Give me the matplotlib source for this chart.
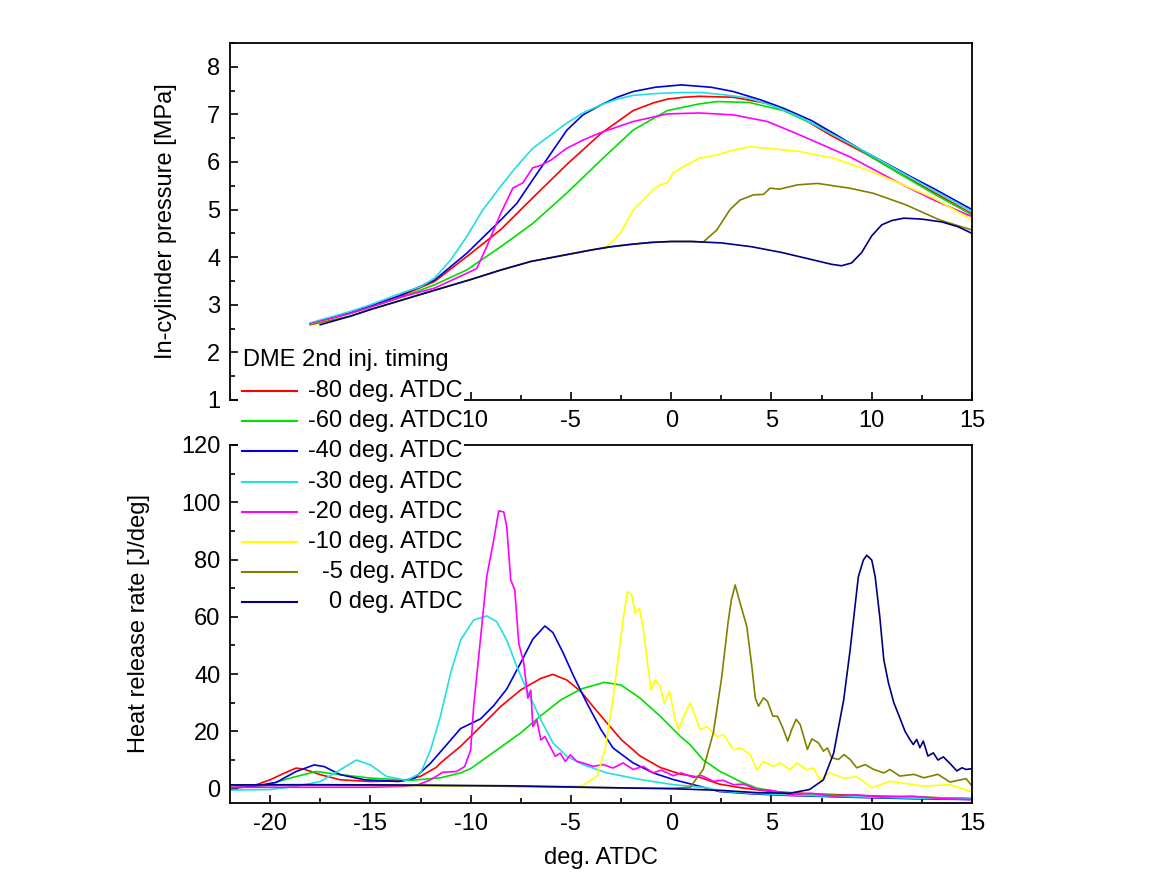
import matplotlib
matplotlib.use('Agg')
import matplotlib.pyplot as plt
from matplotlib.lines import Line2D
from matplotlib.patches import Rectangle
from matplotlib.ticker import MultipleLocator

plt.rcParams['font.family'] = ['Liberation Sans', 'DejaVu Sans']
plt.rcParams['axes.unicode_minus'] = False

labels = ['-80 deg. ATDC', '-60 deg. ATDC', '-40 deg. ATDC', '-30 deg. ATDC',
          '-20 deg. ATDC', '-10 deg. ATDC', '-5 deg. ATDC', '0 deg. ATDC']
colors = ['#FF0000', '#00E000', '#0000D8', '#20E0E0',
          '#FF00FF', '#FFFF00', '#808000', '#000080']

# ---- in-cylinder pressure [MPa]
p80_x = [-18, -16, -15, -13.5, -11.8, -10.2, -8.5, -6.9, -5.2, -3.5, -1.9, -0.9, -0.2, 0.6, 1.4, 3.1, 4.8, 6.4, 8, 9.8, 11.4, 13.1, 15]
p80_y = [2.6, 2.84, 2.97, 3.18, 3.49, 4.01, 4.58, 5.25, 5.95, 6.6, 7.08, 7.24, 7.32, 7.36, 7.38, 7.36, 7.23, 6.95, 6.55, 6.15, 5.76, 5.36, 4.91]
p60_x = [-18, -16, -15, -13.5, -11.8, -10.2, -8.5, -6.9, -5.2, -3.5, -1.9, -0.2, 1.4, 2.3, 3.9, 5.6, 8.1, 10, 11.4, 13.1, 15]
p60_y = [2.6, 2.82, 2.95, 3.15, 3.42, 3.73, 4.22, 4.71, 5.35, 6.04, 6.67, 7.08, 7.22, 7.27, 7.25, 7.08, 6.6, 6.1, 5.75, 5.33, 4.89]
p40_x = [-18, -16, -15, -13.5, -11.8, -10.2, -8.5, -7.7, -6.9, -6, -5.2, -4.4, -3.5, -2.7, -1.9, -0.8, 0.5, 2, 3.1, 4.5, 5.6, 7, 8.1, 9.5, 10.6, 12, 13.1, 15]
p40_y = [2.6, 2.84, 2.97, 3.2, 3.52, 4.08, 4.78, 5.13, 5.63, 6.18, 6.67, 6.99, 7.2, 7.36, 7.48, 7.57, 7.62, 7.57, 7.48, 7.3, 7.13, 6.87, 6.6, 6.25, 6.0, 5.68, 5.44, 5.0]
p30_x = [-18, -16, -15, -13.5, -12.5, -11.8, -11, -10.2, -9.4, -8.5, -7.7, -6.9, -6, -5.2, -4.4, -3.5, -2.7, -1.9, -0.7, 0.5, 1.5, 2.7, 3.9, 5.2, 6.4, 7.6, 8.9, 10.2, 11.4, 13.1, 15]
p30_y = [2.62, 2.86, 3.0, 3.24, 3.38, 3.56, 3.94, 4.43, 4.99, 5.49, 5.91, 6.29, 6.57, 6.82, 7.03, 7.2, 7.32, 7.4, 7.44, 7.46, 7.46, 7.41, 7.34, 7.16, 6.95, 6.68, 6.39, 6.09, 5.8, 5.4, 4.96]
p20_x = [-18, -16, -15, -13.5, -11.8, -10.2, -9.7, -9.2, -8.5, -7.9, -7.4, -6.9, -6.5, -6, -5.2, -4.4, -3.5, -1.9, -0.2, 1.4, 3.1, 4.8, 6.4, 8.9, 11.4, 13.1, 15]
p20_y = [2.6, 2.82, 2.95, 3.16, 3.35, 3.66, 3.76, 4.22, 4.92, 5.45, 5.56, 5.88, 5.93, 6.04, 6.29, 6.46, 6.62, 6.85, 7.01, 7.03, 6.99, 6.85, 6.57, 6.11, 5.55, 5.2, 4.85]
p10_x = [-18, -16, -15, -13.5, -12, -10, -8.5, -7, -6, -5, -4, -3.2, -2.55, -1.9, -1.4, -0.9, -0.55, -0.2, 0.1, 0.6, 1.4, 2.3, 3.1, 3.9, 4.8, 6.4, 8.1, 9.8, 11.4, 13.1, 15]
p10_y = [2.58, 2.76, 2.9, 3.09, 3.28, 3.53, 3.73, 3.91, 3.99, 4.07, 4.15, 4.22, 4.5, 4.99, 5.2, 5.42, 5.52, 5.56, 5.77, 5.9, 6.08, 6.15, 6.25, 6.32, 6.29, 6.22, 6.08, 5.83, 5.55, 5.24, 4.78]
p5_x = [-18, -16, -15, -13.5, -12, -10, -8.5, -7, -6, -5, -4, -3, -2, -1, 0, 1, 1.6, 2.27, 2.93, 3.43, 4.1, 4.6, 4.93, 5.4, 6.3, 7.3, 8.1, 8.9, 10.1, 11.7, 13.4, 15]
p5_y = [2.58, 2.76, 2.9, 3.09, 3.28, 3.53, 3.73, 3.91, 3.99, 4.07, 4.15, 4.22, 4.27, 4.31, 4.33, 4.33, 4.32, 4.57, 5.0, 5.2, 5.31, 5.32, 5.45, 5.43, 5.52, 5.55, 5.5, 5.45, 5.34, 5.1, 4.78, 4.57]
p0_x = [-17.5, -16, -15, -13.5, -12, -10, -8.5, -7, -6, -5, -4, -3, -2, -1, 0, 1, 2.5, 4, 5.5, 7, 8, 8.5, 9, 9.5, 10, 10.5, 11, 11.6, 12.5, 13.5, 14.3, 15]
p0_y = [2.58, 2.76, 2.9, 3.09, 3.28, 3.53, 3.73, 3.91, 3.99, 4.07, 4.15, 4.22, 4.27, 4.31, 4.33, 4.33, 4.3, 4.22, 4.1, 3.95, 3.85, 3.82, 3.88, 4.1, 4.45, 4.68, 4.77, 4.82, 4.8, 4.74, 4.64, 4.5]

# ---- heat release rate [J/deg]
q80_x = [-22, -21, -20, -19.3, -18.7, -18.3, -17.5, -16.5, -15, -13.3, -12.5, -11.7, -11.5, -10.5, -9.5, -8.5, -7.5, -6.5, -5.9, -5.2, -4.5, -3.9, -3.2, -2.5, -1.55, -0.55, 0.45, 1.45, 2.4, 3.5, 5, 7, 10, 12.5, 15]
q80_y = [0.3, 0.6, 3.1, 5.4, 7.2, 6.8, 4.9, 3.1, 2.5, 2.8, 4.3, 7.5, 9, 14.8, 21.7, 28.7, 34.5, 38.5, 39.9, 37.9, 33.9, 28.7, 22.9, 17.2, 11.4, 7.4, 5.1, 3.9, 1.6, 0.3, -1.0, -1.8, -2.5, -3.0, -3.5]
q60_x = [-22, -20.3, -19, -17.7, -16.5, -15, -13, -11.5, -10.5, -10, -9.5, -8.5, -7.5, -6.5, -5.5, -4.5, -3.34, -2.5, -1.55, -0.55, 0.45, 0.95, 1.6, 2.44, 3.44, 4.27, 5.6, 8, 11, 15]
q60_y = [0.3, 1.0, 3.7, 6.0, 4.9, 3.7, 2.9, 3.8, 5.5, 7, 9.5, 14.5, 19.5, 25.5, 31, 34.8, 37.1, 36.2, 31.6, 25.3, 18.3, 15.3, 10, 6, 2.5, 0.2, -1.4, -2.3, -2.8, -3.4]
q40_x = [-22, -21, -19.7, -18.7, -17.8, -17.3, -16.5, -15.3, -13.6, -12.8, -12.0, -11.5, -10.5, -9.5, -8.85, -8.2, -7.5, -6.9, -6.3, -5.9, -5.4, -4.86, -4.2, -3.5, -2.9, -1.9, -0.9, 0.1, 1.1, 2.4, 4, 6, 9, 12, 15]
q40_y = [0.3, 0.6, 2.2, 6.0, 8.3, 7.7, 4.9, 3.1, 2.5, 3.7, 8.9, 12.9, 21, 24.4, 29, 34.8, 44, 52.2, 56.8, 54.5, 47.6, 39.2, 29.8, 20.6, 14.2, 9, 5.5, 3.2, 1.4, -1.0, -1.8, -2.4, -3.0, -3.5, -3.8]
q30_x = [-22, -20, -18.7, -17.5, -16.5, -15.7, -15, -14.2, -13.2, -12.5, -12, -11.5, -11, -10.5, -9.85, -9.2, -8.7, -8.2, -7.7, -7.2, -6.5, -5.9, -5.2, -4.4, -3.2, -1.55, 0.1, 1.8, 2.4, 4, 6, 9, 12, 15]
q30_y = [-0.5, -0.3, 0.8, 2.5, 6.6, 10, 8.3, 4.3, 2.9, 5.4, 13.5, 25.5, 40.3, 51.9, 58.9, 60.3, 58.3, 51.9, 42.7, 34.5, 24.1, 16, 11.3, 8.4, 5.5, 3.2, 1.4, 0.3, -0.8, -1.6, -2.2, -2.8, -3.3, -3.6]
q20_x = [-22, -15, -13.3, -12.6, -12, -11.4, -10.7, -10.3, -10.0, -9.85, -9.5, -9.2, -8.85, -8.6, -8.35, -8.2, -8.0, -7.8, -7.6, -7.35, -7.15, -7.0, -6.9, -6.7, -6.5, -6.3, -6.0, -5.78, -5.53, -5.28, -5.03, -4.7, -4.4, -3.9, -3.4, -2.9, -2.4, -1.9, -1.4, -0.9, -0.5, 0.1, 0.5, 1.1, 1.5, 2.1, 2.6, 3.1, 3.6, 4.3, 5, 6, 7, 8, 9.2, 10.5, 12, 13.5, 15]
q20_y = [0.5, 0.5, 0.8, 1.4, 3.1, 5.7, 6.0, 7.7, 13.5, 28.7, 53, 74, 86.8, 97, 96.6, 91.4, 72.8, 69.4, 50.7, 43.8, 31.6, 34.4, 21.7, 24, 17, 18.2, 14.2, 11.3, 12.4, 9.5, 11.8, 9.5, 9, 7.8, 8.4, 7.2, 9, 6.7, 7.8, 5.5, 6.5, 4.5, 5.5, 4.0, 4.6, 2.6, 2.9, 1.4, 1.6, -0.3, -0.6, -2.1, -1.6, -2.6, -2.2, -2.9, -2.6, -3.5, -3.8]
q10_x = [-22, -15, -10, -4.45, -3.7, -3.3, -2.96, -2.63, -2.38, -2.18, -1.97, -1.8, -1.58, -1.38, -1.18, -1.01, -0.8, -0.55, -0.35, -0.08, 0.2, 0.37, 0.62, 0.95, 1.45, 1.78, 2.28, 2.61, 3.11, 3.44, 3.94, 4.27, 4.6, 5.1, 5.43, 5.93, 6.26, 6.76, 7.09, 7.42, 7.92, 8.59, 9.25, 9.58, 10.0, 10.9, 12.6, 13.9, 14.9]
q10_y = [1.3, 1.2, 1.0, 1.0, 4.3, 13.6, 28.7, 46.2, 60, 68.8, 67.6, 61.2, 62.9, 55.4, 43.8, 34.5, 38, 35.7, 29.8, 33.9, 24, 20.6, 25.2, 29.9, 20.6, 21.7, 18.2, 18.8, 13.6, 14.2, 11.9, 6.6, 9.5, 7.8, 9, 6.6, 9, 6.6, 7.2, 3.1, 5.5, 3.7, 4.1, 2.6, 0.2, 2.6, 0.9, 1.4, -0.9]
q5_x = [-22, -15, -10, -5, 0, 0.95, 1.6, 2.1, 2.5, 2.85, 3.0, 3.19, 3.44, 3.77, 4.02, 4.19, 4.35, 4.6, 4.8, 5.07, 5.3, 5.56, 5.81, 6.01, 6.23, 6.43, 6.79, 7.01, 7.34, 7.59, 7.79, 8.0, 8.34, 8.62, 8.92, 9.25, 9.67, 10.1, 10.6, 10.9, 11.4, 12.1, 12.6, 13.3, 13.9, 14.7, 15]
q5_y = [1.3, 1.2, 1.0, 0.5, 0.1, 0.5, 6.8, 19.5, 38, 58.9, 65.9, 71.1, 64.7, 56.6, 42.7, 31.7, 28.8, 31.7, 30.5, 25.3, 25.3, 21.3, 16.6, 20.7, 24.2, 22.4, 13.7, 17.4, 16, 13.1, 14.2, 10.8, 10.2, 11.9, 10.2, 7.3, 8.4, 6.7, 5.5, 6.7, 4.4, 5, 3.8, 5, 2.3, 3.5, 0.9]
q0_x = [-22, -18, -14, -10, -8, -5, -2, 0, 2.5, 4.3, 5.9, 6.9, 7.59, 8.1, 8.6, 8.92, 9.33, 9.58, 9.75, 10.0, 10.17, 10.4, 10.6, 10.83, 11.1, 11.4, 11.66, 11.9, 12.07, 12.24, 12.4, 12.57, 12.8, 13.07, 13.3, 13.57, 13.9, 14.24, 14.5, 14.7, 15]
q0_y = [1.3, 1.4, 1.3, 1.1, 1.0, 0.6, 0.2, 0.0, -0.6, -1.4, -1.6, -0.3, 3.1, 12.4, 31, 48.4, 74, 79.8, 81.5, 79.8, 74, 60, 45, 37, 30, 24.7, 20, 17.2, 15.4, 17.2, 14.3, 16.6, 11.4, 12.5, 10, 11.1, 8.8, 6.2, 7.3, 6.7, 7]

p_series = [(p80_x, p80_y), (p60_x, p60_y), (p40_x, p40_y), (p30_x, p30_y),
            (p20_x, p20_y), (p10_x, p10_y), (p5_x, p5_y), (p0_x, p0_y)]
q_series = [(q80_x, q80_y), (q60_x, q60_y), (q40_x, q40_y), (q30_x, q30_y),
            (q20_x, q20_y), (q10_x, q10_y), (q5_x, q5_y), (q0_x, q0_y)]

fs = 17
fig = plt.figure(figsize=(11.71, 8.96), dpi=100)
ax1 = fig.add_axes([0.1964, 0.5536, 0.6337, 0.3984])
ax2 = fig.add_axes([0.1964, 0.1038, 0.6337, 0.3996])

for (x, y), c in zip(p_series, colors):
    ax1.plot(x, y, color=c, lw=1.2)
for (x, y), c in zip(q_series, colors):
    ax2.plot(x, y, color=c, lw=1.2)

ax1.set_xlim(-22, 15)
ax1.set_ylim(1, 8.5)
ax2.set_xlim(-22, 15)
ax2.set_ylim(-5, 120)
ax1.yaxis.set_major_locator(MultipleLocator(1))
ax1.yaxis.set_minor_locator(MultipleLocator(0.5))
ax2.yaxis.set_major_locator(MultipleLocator(20))
ax2.yaxis.set_minor_locator(MultipleLocator(10))
for ax in (ax1, ax2):
    ax.xaxis.set_major_locator(MultipleLocator(5))
    ax.xaxis.set_minor_locator(MultipleLocator(2.5))
    ax.tick_params(which='both', direction='in', top=False, right=False,
                   labelsize=fs, width=1.2, pad=7)
    ax.tick_params(which='major', length=6)
    ax.tick_params(which='minor', length=3.5)
    for s in ax.spines.values():
        s.set_linewidth(1.3)

ax1.set_ylabel('In-cylinder pressure [MPa]', fontsize=fs)
ax1.yaxis.set_label_coords(-0.071, 0.5)
ax2.set_ylabel('Heat release rate [J/deg]', fontsize=fs)
ax2.yaxis.set_label_coords(-0.108, 0.5)
ax2.set_xlabel('deg. ATDC', fontsize=fs)
ax2.xaxis.set_label_coords(0.5, -0.122)

# legend drawn over both panels, on a white box
W, H = 1171.0, 896.0
fig.add_artist(Rectangle((238 / W, 1 - 617 / H), 226 / W, 274 / H,
                         transform=fig.transFigure, facecolor='white',
                         edgecolor='none', zorder=10))
fig.text(243 / W, 1 - 360 / H, 'DME 2nd inj. timing', fontsize=fs,
         ha='left', va='center', zorder=11)
for i, (lab, c) in enumerate(zip(labels, colors)):
    yy = 1 - (391 + i * 30.2) / H
    fig.add_artist(Line2D([242 / W, 297 / W], [yy, yy], color=c, lw=1.5,
                          transform=fig.transFigure, zorder=11))
    fig.text(463 / W, yy, lab, fontsize=fs, ha='right', va='center', zorder=11)

fig.savefig('out.png', dpi=100)
